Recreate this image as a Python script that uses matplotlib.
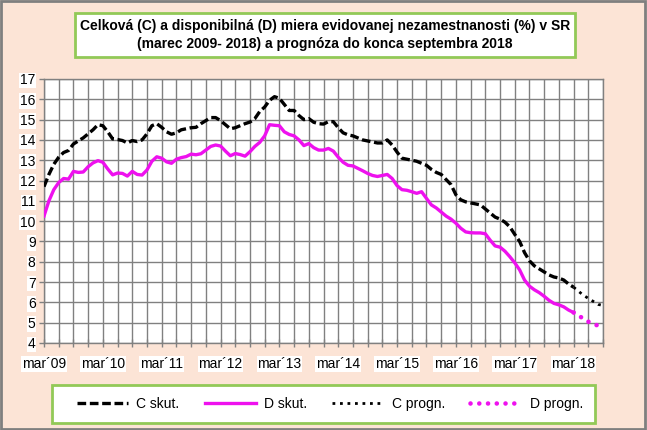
import numpy as np
import matplotlib
matplotlib.use('Agg')
import matplotlib.pyplot as plt
import matplotlib.patches as mpatches
from matplotlib.lines import Line2D

# === 1. Data (monthly, index 0 = March 2009) ===
c_actual = [
    11.7, 12.3, 12.8, 13.15, 13.38, 13.48, 13.8, 13.95, 14.1, 14.3, 14.5, 14.75,
    14.7, 14.4, 14.05, 14.02, 13.97, 13.85, 13.97, 13.92, 14.0, 14.3, 14.7, 14.8,
    14.62, 14.4, 14.28, 14.35, 14.5, 14.55, 14.6, 14.62, 14.8, 14.95, 15.1, 15.1,
    14.95, 14.75, 14.55, 14.6, 14.7, 14.8, 14.88, 15.05, 15.4, 15.62, 15.95, 16.13,
    16.05, 15.75, 15.45, 15.45, 15.2, 15.0, 15.05, 14.87, 14.8, 14.78, 14.9, 14.9,
    14.6, 14.35, 14.25, 14.2, 14.1, 14.0, 13.95, 13.9, 13.85, 13.85, 14.0, 13.75,
    13.4, 13.1, 13.05, 13.0, 12.95, 12.85, 12.75, 12.55, 12.4, 12.3, 12.05, 11.8,
    11.3, 11.05, 10.95, 10.9, 10.85, 10.8, 10.6, 10.4, 10.2, 10.1, 9.95, 9.72,
    9.35, 9.0, 8.45, 8.05, 7.8, 7.65, 7.5, 7.35, 7.25, 7.2, 7.1, 6.9,
    6.75,
]
d_actual = [
    10.25, 11.0, 11.55, 11.9, 12.1, 12.07, 12.45, 12.4, 12.42, 12.68, 12.87, 12.98,
    12.9, 12.57, 12.28, 12.37, 12.35, 12.22, 12.45, 12.3, 12.27, 12.52, 12.95, 13.17,
    13.1, 12.92, 12.85, 13.05, 13.13, 13.18, 13.3, 13.27, 13.32, 13.5, 13.68, 13.75,
    13.7, 13.45, 13.22, 13.33, 13.28, 13.2, 13.42, 13.68, 13.88, 14.2, 14.75, 14.72,
    14.7, 14.4, 14.27, 14.2, 14.0, 13.72, 13.82, 13.62, 13.5, 13.5, 13.58, 13.45,
    13.15, 12.9, 12.75, 12.72, 12.6, 12.48, 12.35, 12.25, 12.2, 12.25, 12.3, 12.1,
    11.75, 11.55, 11.52, 11.45, 11.37, 11.45, 11.12, 10.8, 10.65, 10.45, 10.25, 10.1,
    9.9, 9.65, 9.47, 9.43, 9.42, 9.42, 9.38, 9.06, 8.78, 8.72, 8.52, 8.25,
    7.95, 7.6, 7.1, 6.8, 6.62, 6.48, 6.3, 6.1, 5.95, 5.88, 5.78, 5.62,
    5.5,
]
# forecast March 2018 - September 2018
c_forecast = [6.75, 6.55, 6.35, 6.2, 6.05, 5.9, 5.85]
d_forecast = [5.5, 5.35, 5.2, 5.05, 4.95, 4.85, 4.8]

year_labels = ['mar´09', 'mar´10', 'mar´11', 'mar´12', 'mar´13',
               'mar´14', 'mar´15', 'mar´16', 'mar´17', 'mar´18']

title = ('Celková (C) a disponibilná (D) miera evidovanej nezamestnanosti (%) v SR\n'
         '(marec 2009- 2018) a prognóza do konca septembra 2018')

# === 2. Style ===
plt.rcParams['font.family'] = ['Liberation Sans', 'DejaVu Sans']
bg = '#FCE4D6'
green = '#92C957'
grid_col = '#808080'
magenta = '#EE11EE'

x_act = np.arange(len(c_actual))
x_fc = np.arange(len(c_actual) - 1, len(c_actual) - 1 + len(c_forecast))
n_months = x_fc[-1]

fig = plt.figure(figsize=(6.47, 4.30), dpi=100, facecolor=bg)
ax = fig.add_axes([44 / 647, 1 - 343 / 430, 559 / 647, 264 / 430])
ax.set_facecolor('white')

# === 3. Lines ===
c_dash = dict(color='black', lw=2.4, dashes=(2.6, 1.1))
d_line = dict(color=magenta, lw=2.4)
c_dot = dict(color='black', lw=2.0, linestyle=(0, (1, 1.7)))
d_dot = dict(color=magenta, lw=3.3, dashes=(0.01, 1.9), dash_capstyle='round')

ax.plot(x_act, c_actual, zorder=4, **c_dash)
ax.plot(x_act, d_actual, zorder=4, **d_line)
ax.plot(x_fc, c_forecast, zorder=4, **c_dot)
ax.plot(x_fc, d_forecast, zorder=4, **d_dot)

# === 4. Axes ===
ax.set_xlim(0, n_months)
ax.set_ylim(4, 17)
ax.set_yticks(range(4, 18))
ax.set_xticks(np.arange(0, n_months + 1, 3))
ax.set_xticklabels([year_labels[i // 12] if i % 12 == 0 and i // 12 < len(year_labels) else ''
                    for i in range(0, n_months + 1, 3)])
ax.grid(True, color=grid_col, lw=1.0)
ax.set_axisbelow(True)
for s in ax.spines.values():
    s.set_color(grid_col)
    s.set_linewidth(1.0)
ax.tick_params(axis='y', length=3.6, width=1, color=grid_col, pad=2.5, labelsize=10)
ax.tick_params(axis='x', length=6, width=1, color=grid_col, direction='inout',
               pad=7, labelsize=10)
for lbl in ax.get_xticklabels() + ax.get_yticklabels():
    if lbl.get_text():
        lbl.set_bbox(dict(facecolor='white', edgecolor='none', pad=0.5))

# === 5. Title box ===
fig.patches.append(mpatches.Rectangle((75 / 647, 1 - 57 / 430), 500 / 647, 44 / 430,
                                      transform=fig.transFigure, facecolor='white',
                                      edgecolor=green, lw=2))
fig.text(325 / 647, 1 - 35 / 430, title, ha='center', va='center', fontsize=10,
         fontweight='bold', linespacing=1.35)

# === 6. Legend ===
fig.patches.append(mpatches.Rectangle((52 / 647, 1 - 423 / 430), 543 / 647, 38 / 430,
                                      transform=fig.transFigure, facecolor='white',
                                      edgecolor=green, lw=2))
handles = [Line2D([], [], **c_dash), Line2D([], [], **d_line),
           Line2D([], [], **c_dot), Line2D([], [], **d_dot)]
fig.legend(handles, ['C skut.', 'D skut.', 'C progn.', 'D progn.'], ncol=4,
           loc='center', bbox_to_anchor=(330 / 647, 1 - 404 / 430), frameon=False,
           fontsize=10, handlelength=3.7, columnspacing=1.8, handletextpad=0.6)

# === 7. Outer border ===
fig.patches.append(mpatches.Rectangle((0.001, 0.002), 0.996, 0.996, transform=fig.transFigure,
                                      facecolor='none', edgecolor='#7F7F7F', lw=2))

plt.savefig('out.png', dpi=100, facecolor=bg)
